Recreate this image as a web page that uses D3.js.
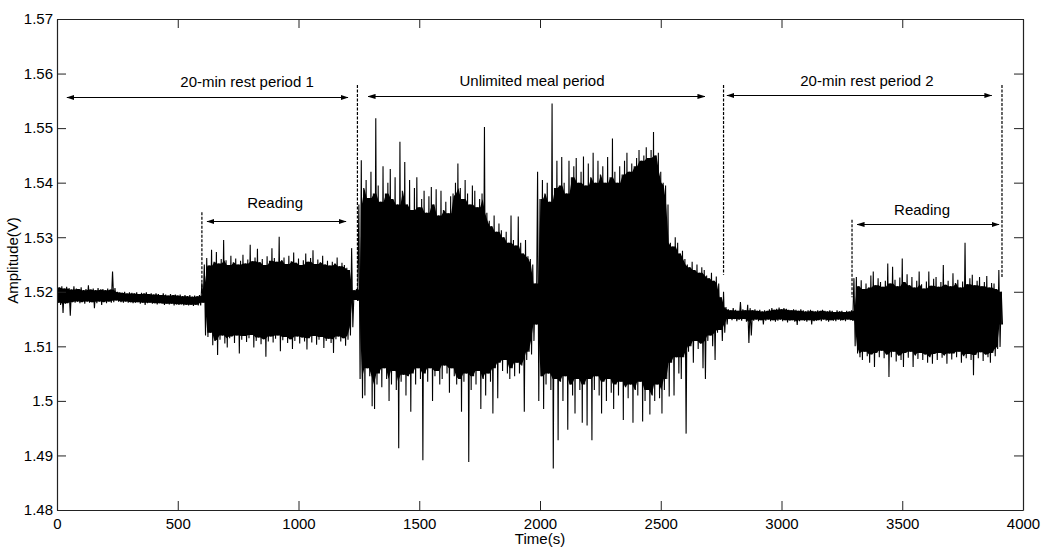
<!DOCTYPE html>
<html>
<head>
<meta charset="utf-8">
<script src="https://cdn.jsdelivr.net/npm/d3@7"></script>
<style>
  body { margin: 0; background: #fff; }
  svg { display: block; font-family: "Liberation Sans", Arial, sans-serif; }
  .axis text { font-size: 15px; fill: #000; font-family: "Liberation Sans", Arial, sans-serif; }
  .axis path, .axis line { stroke: #222; }
</style>
</head>
<body>
<div id="chart"></div>
<script>
// Sensor amplitude over time, min/max per 10 s bin

const sampleStep = 10; // seconds per bin

// bin maxima (V), one row = 100 s
const sigHi = [
  1.5212,1.5208,1.5210,1.5206,1.5209,1.5207,1.5204,1.5210,1.5206,1.5205, // 0
  1.5208,1.5203,1.5205,1.5212,1.5204,1.5206,1.5203,1.5207,1.5204,1.5205, // 100
  1.5203,1.5206,1.5204,1.5237,1.5207,1.5200,1.5199,1.5198,1.5200,1.5197, // 200
  1.5199,1.5198,1.5197,1.5199,1.5196,1.5198,1.5197,1.5199,1.5196,1.5197, // 300
  1.5195,1.5197,1.5196,1.5194,1.5197,1.5195,1.5193,1.5196,1.5194,1.5195, // 400
  1.5193,1.5195,1.5192,1.5194,1.5192,1.5194,1.5191,1.5193,1.5192,1.5194, // 500
  1.5216,1.5250,1.5262,1.5248,1.5277,1.5255,1.5273,1.5252,1.5260,1.5295, // 600
  1.5258,1.5249,1.5266,1.5254,1.5261,1.5250,1.5257,1.5268,1.5252,1.5259, // 700
  1.5286,1.5256,1.5263,1.5279,1.5254,1.5260,1.5249,1.5265,1.5257,1.5280, // 800
  1.5262,1.5255,1.5301,1.5258,1.5263,1.5251,1.5266,1.5256,1.5272,1.5253, // 900
  1.5261,1.5249,1.5258,1.5270,1.5255,1.5262,1.5276,1.5251,1.5259,1.5254, // 1000
  1.5266,1.5250,1.5257,1.5248,1.5255,1.5252,1.5263,1.5247,1.5253,1.5249, // 1100
  1.5244,1.5240,1.5280,1.5203,1.5205,1.5360,1.5441,1.5390,1.5405,1.5372, // 1200
  1.5420,1.5380,1.5518,1.5395,1.5365,1.5430,1.5380,1.5400,1.5425,1.5370, // 1300
  1.5410,1.5360,1.5475,1.5385,1.5438,1.5360,1.5405,1.5350,1.5390,1.5410, // 1400
  1.5355,1.5370,1.5385,1.5345,1.5375,1.5392,1.5360,1.5388,1.5340,1.5385, // 1500
  1.5350,1.5365,1.5344,1.5375,1.5380,1.5400,1.5435,1.5390,1.5370,1.5405, // 1600
  1.5380,1.5360,1.5395,1.5385,1.5355,1.5370,1.5380,1.5502,1.5345,1.5330, // 1700
  1.5320,1.5340,1.5310,1.5325,1.5313,1.5300,1.5310,1.5290,1.5340,1.5295, // 1800
  1.5285,1.5338,1.5290,1.5270,1.5295,1.5265,1.5260,1.5250,1.5215,1.5420, // 1900
  1.5370,1.5405,1.5380,1.5400,1.5365,1.5545,1.5390,1.5440,1.5395,1.5447, // 2000
  1.5400,1.5380,1.5440,1.5410,1.5430,1.5445,1.5400,1.5420,1.5448,1.5395, // 2100
  1.5435,1.5410,1.5455,1.5400,1.5440,1.5415,1.5430,1.5400,1.5447,1.5410, // 2200
  1.5481,1.5420,1.5400,1.5430,1.5415,1.5440,1.5455,1.5420,1.5435,1.5430, // 2300
  1.5445,1.5460,1.5440,1.5450,1.5465,1.5445,1.5460,1.5493,1.5450,1.5455, // 2400
  1.5420,1.5400,1.5395,1.5360,1.5290,1.5283,1.5300,1.5290,1.5270,1.5275, // 2500
  1.5260,1.5250,1.5245,1.5255,1.5240,1.5250,1.5235,1.5245,1.5240,1.5230, // 2600
  1.5225,1.5235,1.5220,1.5228,1.5215,1.5190,1.5200,1.5172,1.5168,1.5166, // 2700
  1.5170,1.5167,1.5165,1.5181,1.5168,1.5166,1.5176,1.5170,1.5166,1.5168, // 2800
  1.5165,1.5167,1.5164,1.5166,1.5165,1.5168,1.5170,1.5167,1.5169,1.5171, // 2900
  1.5168,1.5170,1.5169,1.5167,1.5166,1.5168,1.5167,1.5165,1.5168,1.5166, // 3000
  1.5164,1.5166,1.5167,1.5165,1.5164,1.5166,1.5165,1.5167,1.5165,1.5164, // 3100
  1.5166,1.5165,1.5163,1.5166,1.5164,1.5165,1.5163,1.5165,1.5164,1.5166, // 3200
  1.5225,1.5227,1.5210,1.5221,1.5205,1.5215,1.5208,1.5230,1.5237,1.5212, // 3300
  1.5225,1.5218,1.5209,1.5220,1.5252,1.5215,1.5246,1.5222,1.5210,1.5226, // 3400
  1.5261,1.5218,1.5232,1.5212,1.5227,1.5208,1.5220,1.5237,1.5214,1.5206, // 3500
  1.5219,1.5237,1.5211,1.5224,1.5227,1.5209,1.5218,1.5249,1.5213,1.5220, // 3600
  1.5210,1.5234,1.5216,1.5222,1.5208,1.5219,1.5290,1.5214,1.5225,1.5231, // 3700
  1.5212,1.5220,1.5227,1.5210,1.5218,1.5229,1.5208,1.5216,1.5215,1.5205, // 3800
  1.5240,1.5200                                                          // 3900
];

// bin minima (V)
const sigLo = [
  1.5180,1.5176,1.5161,1.5178,1.5179,1.5156,1.5181,1.5180,1.5182,1.5179, // 0
  1.5181,1.5178,1.5182,1.5180,1.5181,1.5170,1.5179,1.5182,1.5176,1.5181, // 100
  1.5179,1.5182,1.5180,1.5181,1.5184,1.5182,1.5181,1.5180,1.5182,1.5180, // 200
  1.5181,1.5179,1.5180,1.5181,1.5178,1.5180,1.5176,1.5179,1.5180,1.5178, // 300
  1.5179,1.5177,1.5179,1.5178,1.5176,1.5178,1.5177,1.5178,1.5175,1.5177, // 400
  1.5176,1.5177,1.5175,1.5176,1.5175,1.5176,1.5174,1.5176,1.5175,1.5175, // 500
  1.5180,1.5120,1.5117,1.5125,1.5102,1.5110,1.5084,1.5112,1.5120,1.5105, // 600
  1.5098,1.5115,1.5118,1.5106,1.5120,1.5087,1.5112,1.5119,1.5108,1.5115, // 700
  1.5121,1.5098,1.5110,1.5116,1.5104,1.5113,1.5081,1.5109,1.5118,1.5107, // 800
  1.5114,1.5120,1.5091,1.5111,1.5117,1.5106,1.5113,1.5095,1.5110,1.5118, // 900
  1.5105,1.5116,1.5109,1.5094,1.5115,1.5107,1.5119,1.5103,1.5112,1.5117, // 1000
  1.5097,1.5110,1.5114,1.5106,1.5088,1.5113,1.5118,1.5109,1.5115,1.5101, // 1100
  1.5112,1.5120,1.5135,1.5185,1.5183,1.5040,1.5005,1.5010,1.5060,1.5045, // 1200
  1.4990,1.4985,1.5030,1.5050,1.5025,1.5060,1.5040,1.5000,1.5030,1.5055, // 1300
  1.5020,1.4913,1.5035,1.5048,1.5010,1.5045,1.4980,1.5050,1.5030,1.5060, // 1400
  1.5040,1.4891,1.5050,1.5035,1.5060,1.5000,1.5045,1.5055,1.5030,1.5040, // 1500
  1.5065,1.5050,1.5015,1.5060,1.5045,1.5030,1.5040,1.4980,1.5035,1.5050, // 1600
  1.4888,1.5020,1.5045,1.5030,1.5055,1.4985,1.5040,1.5010,1.5050,1.5035, // 1700
  1.4977,1.5060,1.5005,1.5070,1.5055,1.5075,1.5050,1.5040,1.5060,1.5045, // 1800
  1.5070,1.5050,1.5065,1.4980,1.5075,1.5090,1.5085,1.5110,1.5140,1.5000, // 1900
  1.5045,1.4985,1.5030,1.5050,1.5020,1.4876,1.5040,1.4928,1.5035,1.5000, // 2000
  1.5045,1.4947,1.5030,1.5010,1.4977,1.5040,1.5020,1.4960,1.5030,1.4955, // 2100
  1.5040,1.4928,1.5020,1.5045,1.5010,1.4977,1.5035,1.5000,1.5040,1.5015, // 2200
  1.4985,1.5030,1.5010,1.5035,1.4965,1.5025,1.5005,1.5030,1.4960,1.5020, // 2300
  1.5010,1.5035,1.4962,1.5000,1.5020,1.4975,1.5010,1.5000,1.5030,1.5005, // 2400
  1.4977,1.5020,1.5040,1.5008,1.5070,1.5010,1.5080,1.5050,1.5040,1.5080, // 2500
  1.4940,1.5090,1.5100,1.5070,1.5110,1.5095,1.5105,1.5060,1.5040,1.5110, // 2600
  1.5120,1.5100,1.5075,1.5125,1.5130,1.5110,1.5125,1.5140,1.5150,1.5148, // 2700
  1.5150,1.5146,1.5149,1.5147,1.5150,1.5145,1.5106,1.5120,1.5147,1.5149, // 2800
  1.5146,1.5148,1.5140,1.5147,1.5149,1.5146,1.5148,1.5145,1.5147,1.5149, // 2900
  1.5146,1.5148,1.5144,1.5147,1.5148,1.5145,1.5139,1.5146,1.5148,1.5147, // 3000
  1.5145,1.5148,1.5140,1.5146,1.5147,1.5148,1.5146,1.5149,1.5147,1.5145, // 3100
  1.5148,1.5147,1.5146,1.5149,1.5147,1.5148,1.5146,1.5149,1.5148,1.5147, // 3200
  1.5100,1.5087,1.5080,1.5075,1.5090,1.5082,1.5070,1.5085,1.5062,1.5088, // 3300
  1.5080,1.5092,1.5078,1.5085,1.5044,1.5080,1.5090,1.5072,1.5083,1.5075, // 3400
  1.5062,1.5088,1.5079,1.5090,1.5062,1.5083,1.5077,1.5088,1.5075,1.5085, // 3500
  1.5070,1.5080,1.5068,1.5086,1.5075,1.5088,1.5079,1.5083,1.5068,1.5087, // 3600
  1.5076,1.5087,1.5080,1.5090,1.5070,1.5082,1.5078,1.5086,1.5075,1.5047, // 3700
  1.5084,1.5078,1.5089,1.5073,1.5085,1.5080,1.5070,1.5088,1.5082,1.5095, // 3800
  1.5099,1.5140                                                          // 3900
];

const xTicks = [0, 500, 1000, 1500, 2000, 2500, 3000, 3500, 4000];
const yTicks = [1.48, 1.49, 1.5, 1.51, 1.52, 1.53, 1.54, 1.55, 1.56, 1.57];

// dashed period boundaries: time, top and bottom (V)
const markerTimes = [600, 1244, 2760, 3292, 3913];
const markerTop = [1.5346, 1.5579, 1.5579, 1.5332, 1.5579];
const markerBottom = [1.5203, 1.5200, 1.5231, 1.5190, 1.5227];

// double arrows with labels
const annoText = ['20-min rest period 1', 'Unlimited meal period', '20-min rest period 2', 'Reading', 'Reading'];
const annoFrom = [41, 1288, 2774, 621, 3313];
const annoTo = [1205, 2683, 3871, 1197, 3901];
const annoLevel = [1.5557, 1.5559, 1.5561, 1.5330, 1.5324];
const annoTextAt = [787, 1967, 3354, 903, 3582];
const annoTextLevel = [1.5575, 1.5578, 1.5578, 1.5354, 1.5340];

document.addEventListener('DOMContentLoaded', () => {
  drawChart();
});

function drawChart() {
  const W = 1050, H = 559;
  const margin = {top: 19, right: 27, bottom: 49, left: 57};
  const width = W - margin.left - margin.right;
  const height = H - margin.top - margin.bottom;

  const svg = d3.select('#chart')
    .append('svg')
    .attr('width', W)
    .attr('height', H);

  const defs = svg.append('defs');
  defs.append('clipPath')
    .attr('id', 'plot-clip')
    .append('rect')
    .attr('width', width)
    .attr('height', height);

  defs.append('marker')
    .attr('id', 'head')
    .attr('viewBox', '0 -3 8 6')
    .attr('markerUnits', 'userSpaceOnUse')
    .attr('markerWidth', 8)
    .attr('markerHeight', 6)
    .attr('refX', 7.5)
    .attr('refY', 0)
    .attr('orient', 'auto-start-reverse')
    .append('path')
    .attr('d', 'M0,-2.6L8,0L0,2.6Z')
    .attr('fill', '#000');

  const g = svg.append('g')
    .attr('transform', `translate(${margin.left},${margin.top})`);

  const x = d3.scaleLinear().domain([0, 4000]).range([0, width]);
  const y = d3.scaleLinear().domain([1.48, 1.57]).range([height, 0]);

  const plot = g.append('g').attr('clip-path', 'url(#plot-clip)');

  // dense part of the trace: where neighbouring bins overlap it is solid ink
  const n = sigHi.length;
  const core = sigHi.map((h, i) => {
    const a = Math.max(0, i - 1), b = Math.min(n - 1, i + 1);
    return {
      t: i * sampleStep + sampleStep / 4,
      top: Math.min(sigHi[a], h, sigHi[b]),
      bottom: Math.max(sigLo[a], sigLo[i], sigLo[b])
    };
  });

  plot.append('path')
    .datum(core)
    .attr('fill', '#000')
    .attr('d', d3.area()
      .x(d => x(d.t))
      .y0(d => y(d.bottom))
      .y1(d => y(d.top)));

  // signal: zigzag through each bin's max and min
  const pts = [];
  sigHi.forEach((h, i) => {
    const t = i * sampleStep;
    pts.push([t, h]);
    pts.push([t + sampleStep / 2, sigLo[i]]);
  });

  const line = d3.line()
    .x(d => x(d[0]))
    .y(d => y(d[1]));

  plot.append('path')
    .datum(pts)
    .attr('fill', 'none')
    .attr('stroke', '#000')
    .attr('stroke-width', 1.1)
    .attr('d', line);

  // dashed boundaries
  g.selectAll('.marker')
    .data(markerTimes)
    .enter()
    .append('line')
    .attr('x1', d => x(d))
    .attr('x2', d => x(d))
    .attr('y1', (d, i) => y(markerTop[i]))
    .attr('y2', (d, i) => y(markerBottom[i]))
    .attr('stroke', '#000')
    .attr('stroke-width', 1.2)
    .attr('stroke-dasharray', '3,1.5');

  // arrows
  g.selectAll('.arrow')
    .data(annoText)
    .enter()
    .append('line')
    .attr('x1', (d, i) => x(annoFrom[i]))
    .attr('x2', (d, i) => x(annoTo[i]))
    .attr('y1', (d, i) => Math.round(y(annoLevel[i])) + 0.5)
    .attr('y2', (d, i) => Math.round(y(annoLevel[i])) + 0.5)
    .attr('stroke', '#000')
    .attr('stroke-width', 1)
    .attr('marker-start', 'url(#head)')
    .attr('marker-end', 'url(#head)');

  g.selectAll('.anno-label')
    .data(annoText)
    .enter()
    .append('text')
    .attr('x', (d, i) => x(annoTextAt[i]))
    .attr('y', (d, i) => y(annoTextLevel[i]))
    .attr('text-anchor', 'middle')
    .style('font-size', '15px')
    .style('fill', '#000')
    .text(d => d);

  // axes, MATLAB style: ticks inward on all four sides
  const fmt = d => String(+d.toFixed(2));

  g.append('g')
    .attr('class', 'axis')
    .attr('transform', `translate(0,${height})`)
    .call(d3.axisBottom(x).tickValues(xTicks).tickSizeInner(-9).tickSizeOuter(0).tickPadding(8).tickFormat(d => String(d)));

  g.append('g')
    .attr('class', 'axis')
    .call(d3.axisTop(x).tickValues(xTicks).tickSizeInner(-9).tickSizeOuter(0).tickFormat(''));

  g.append('g')
    .attr('class', 'axis')
    .call(d3.axisLeft(y).tickValues(yTicks).tickSizeInner(-9).tickSizeOuter(0).tickPadding(4).tickFormat(fmt));

  g.append('g')
    .attr('class', 'axis')
    .attr('transform', `translate(${width},0)`)
    .call(d3.axisRight(y).tickValues(yTicks).tickSizeInner(-9).tickSizeOuter(0).tickFormat(''));

  g.selectAll('.axis .domain').attr('stroke-width', 1.2);

  // axis titles
  svg.append('text')
    .attr('x', margin.left + width / 2)
    .attr('y', 544)
    .attr('text-anchor', 'middle')
    .style('font-size', '15px')
    .text('Time(s)');

  svg.append('text')
    .attr('transform', `translate(18,${margin.top + height / 2 - 4}) rotate(-90)`)
    .attr('text-anchor', 'middle')
    .style('font-size', '15px')
    .text('Amplitude(V)');
}
</script>
</body>
</html>
